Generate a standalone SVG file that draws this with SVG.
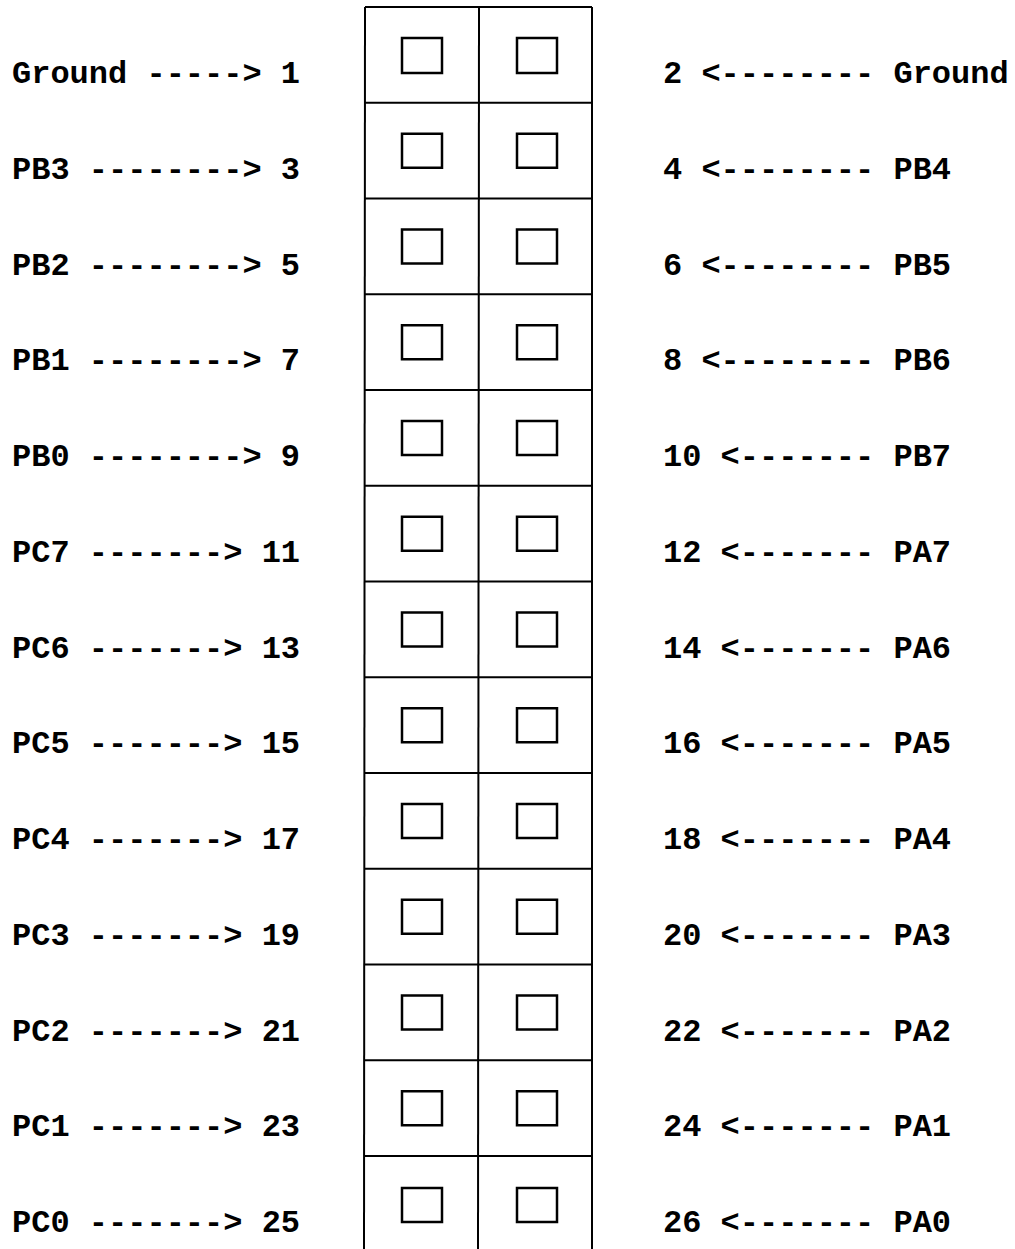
<svg xmlns="http://www.w3.org/2000/svg" width="1015" height="1249" viewBox="0 0 1015 1249">
<style>
.t{font-family:"Liberation Mono","Courier New",monospace;font-weight:bold;font-size:32px;fill:#000}
.g{stroke:#000;stroke-width:2;fill:none}
.p{stroke:#000;stroke-width:2.5;fill:#fff}
</style>
<rect width="1015" height="1249" fill="#fff"/>
<g id="header-grid">
<line class="g" x1="365" y1="7" x2="592" y2="7"/>
<line class="g" x1="365" y1="7" x2="364" y2="1249"/>
<line class="g" x1="479" y1="7" x2="478" y2="1249"/>
<line class="g" x1="592" y1="7" x2="592" y2="1249"/>
<line class="g" x1="365" y1="102.75" x2="592" y2="102.75"/>
<line class="g" x1="365" y1="198.5" x2="592" y2="198.5"/>
<line class="g" x1="365" y1="294.25" x2="592" y2="294.25"/>
<line class="g" x1="365" y1="390" x2="592" y2="390"/>
<line class="g" x1="365" y1="485.75" x2="592" y2="485.75"/>
<line class="g" x1="365" y1="581.5" x2="592" y2="581.5"/>
<line class="g" x1="365" y1="677.25" x2="592" y2="677.25"/>
<line class="g" x1="365" y1="773" x2="592" y2="773"/>
<line class="g" x1="365" y1="868.75" x2="592" y2="868.75"/>
<line class="g" x1="365" y1="964.5" x2="592" y2="964.5"/>
<line class="g" x1="365" y1="1060.25" x2="592" y2="1060.25"/>
<line class="g" x1="365" y1="1156" x2="592" y2="1156"/>
</g>
<g id="pins">
<g id="pin1"><rect class="p" x="402" y="38" width="40" height="35"/><text class="t" x="12" y="83">Ground -----&gt; 1</text></g>
<g id="pin2"><rect class="p" x="517" y="38" width="40" height="35"/><text class="t" x="663" y="83">2 &lt;-------- Ground</text></g>
<g id="pin3"><rect class="p" x="402" y="133.75" width="40" height="34"/><text class="t" x="12" y="178.75">PB3 --------&gt; 3</text></g>
<g id="pin4"><rect class="p" x="517" y="133.75" width="40" height="34"/><text class="t" x="663" y="178.75">4 &lt;-------- PB4</text></g>
<g id="pin5"><rect class="p" x="402" y="229.5" width="40" height="34"/><text class="t" x="12" y="274.5">PB2 --------&gt; 5</text></g>
<g id="pin6"><rect class="p" x="517" y="229.5" width="40" height="34"/><text class="t" x="663" y="274.5">6 &lt;-------- PB5</text></g>
<g id="pin7"><rect class="p" x="402" y="325.25" width="40" height="34"/><text class="t" x="12" y="370.25">PB1 --------&gt; 7</text></g>
<g id="pin8"><rect class="p" x="517" y="325.25" width="40" height="34"/><text class="t" x="663" y="370.25">8 &lt;-------- PB6</text></g>
<g id="pin9"><rect class="p" x="402" y="421" width="40" height="34"/><text class="t" x="12" y="466">PB0 --------&gt; 9</text></g>
<g id="pin10"><rect class="p" x="517" y="421" width="40" height="34"/><text class="t" x="663" y="466">10 &lt;------- PB7</text></g>
<g id="pin11"><rect class="p" x="402" y="516.75" width="40" height="34"/><text class="t" x="12" y="561.75">PC7 -------&gt; 11</text></g>
<g id="pin12"><rect class="p" x="517" y="516.75" width="40" height="34"/><text class="t" x="663" y="561.75">12 &lt;------- PA7</text></g>
<g id="pin13"><rect class="p" x="402" y="612.5" width="40" height="34"/><text class="t" x="12" y="657.5">PC6 -------&gt; 13</text></g>
<g id="pin14"><rect class="p" x="517" y="612.5" width="40" height="34"/><text class="t" x="663" y="657.5">14 &lt;------- PA6</text></g>
<g id="pin15"><rect class="p" x="402" y="708.25" width="40" height="34"/><text class="t" x="12" y="753.25">PC5 -------&gt; 15</text></g>
<g id="pin16"><rect class="p" x="517" y="708.25" width="40" height="34"/><text class="t" x="663" y="753.25">16 &lt;------- PA5</text></g>
<g id="pin17"><rect class="p" x="402" y="804" width="40" height="34"/><text class="t" x="12" y="849">PC4 -------&gt; 17</text></g>
<g id="pin18"><rect class="p" x="517" y="804" width="40" height="34"/><text class="t" x="663" y="849">18 &lt;------- PA4</text></g>
<g id="pin19"><rect class="p" x="402" y="899.75" width="40" height="34"/><text class="t" x="12" y="944.75">PC3 -------&gt; 19</text></g>
<g id="pin20"><rect class="p" x="517" y="899.75" width="40" height="34"/><text class="t" x="663" y="944.75">20 &lt;------- PA3</text></g>
<g id="pin21"><rect class="p" x="402" y="995.5" width="40" height="34"/><text class="t" x="12" y="1040.5">PC2 -------&gt; 21</text></g>
<g id="pin22"><rect class="p" x="517" y="995.5" width="40" height="34"/><text class="t" x="663" y="1040.5">22 &lt;------- PA2</text></g>
<g id="pin23"><rect class="p" x="402" y="1091.25" width="40" height="34"/><text class="t" x="12" y="1136.25">PC1 -------&gt; 23</text></g>
<g id="pin24"><rect class="p" x="517" y="1091.25" width="40" height="34"/><text class="t" x="663" y="1136.25">24 &lt;------- PA1</text></g>
<g id="pin25"><rect class="p" x="402" y="1188" width="40" height="34"/><text class="t" x="12" y="1232">PC0 -------&gt; 25</text></g>
<g id="pin26"><rect class="p" x="517" y="1188" width="40" height="34"/><text class="t" x="663" y="1232">26 &lt;------- PA0</text></g>
</g>
<g id="connectors"></g>
</svg>
